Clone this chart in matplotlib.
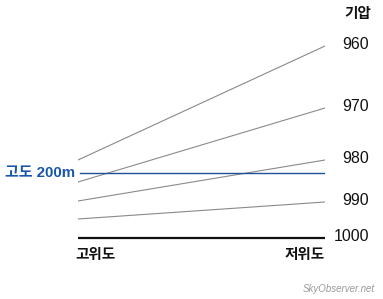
import matplotlib
matplotlib.use("Agg")
import matplotlib.pyplot as plt

plt.rcParams["font.family"] = ["Liberation Sans", "Noto Sans CJK KR"]

# isobar heights above the 1000 hPa surface (px-like units), high vs low latitude
pressures = ["960", "970", "980", "990", "1000"]
height_high_lat = [78, 56, 37, 19, 0]
height_low_lat = [192, 130, 78, 36, 0]
altitude_200m = 65
x_ends = [0, 1]

W, H = 383, 299
fig = plt.figure(figsize=(W / 100, H / 100), dpi=100)
fig.patch.set_facecolor("white")

ax = fig.add_axes([78 / W, 0, 247 / W, 1])
ax.set_xlim(0, 1)
ax.set_ylim(-61, 238)
ax.axis("off")

for p, lo, hi in zip(pressures, height_high_lat, height_low_lat):
    if p == "1000":
        ax.plot(x_ends, [lo, hi], color="#111111", lw=1.6, solid_capstyle="butt")
    else:
        ax.plot(x_ends, [lo, hi], color="#8a8a8a", lw=0.8)
    ax.text(291 / 247, hi + 1.5, p, ha="right", va="center",
            fontsize=11.5, color="#111111", clip_on=False)

ax.plot([0.008, 1], [altitude_200m, altitude_200m], color="#1f4f94", lw=1.0)
ax.text(-3 / 247, altitude_200m, "고도 200m", ha="right", va="center",
        fontsize=10.8, color="#1a56a8", fontweight="bold", clip_on=False)

fig.text(371 / W, 1 - 14 / H, "기압", ha="right", va="center",
         fontsize=10.5, fontweight="bold", color="#111111")
fig.text(75 / W, 1 - 255 / H, "고위도", ha="left", va="center",
         fontsize=10.5, fontweight="bold", color="#111111")
fig.text(325 / W, 1 - 255 / H, "저위도", ha="right", va="center",
         fontsize=10.5, fontweight="bold", color="#111111")
fig.text(375 / W, 1 - 289 / H, "SkyObserver.net", ha="right", va="center",
         fontsize=7, style="italic", color="#9a9a9a")

fig.savefig("out.png", dpi=100)
